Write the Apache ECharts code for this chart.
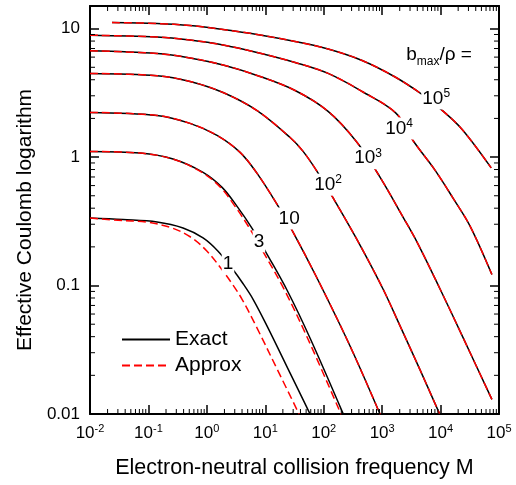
<!DOCTYPE html>
<html>
<head>
<meta charset="utf-8">
<script type="text/javascript" src="https://cdn.jsdelivr.net/npm/echarts@6/dist/echarts.min.js"></script>
<title>Effective Coulomb logarithm</title>
</head>
<body style="margin:0">
<div id="main" style="width:516px;height:485px;"></div>
<script type="text/javascript">

// readings: collision frequency M and effective Coulomb log
var m1e5 = [0.0238, 0.1404, 0.5156, 1.894, 7.238, 32.38, 118.9, 454.4, 1669, 4840, 10650, 23440, 73510];
var ex1e5 = [11.15, 10.96, 10.57, 9.84, 9.00, 7.94, 6.94, 5.65, 4.20, 3.07, 2.31, 1.64, 0.824];

var m1e4 = [0.01, 0.1404, 0.5156, 1.894, 7.238, 32.38, 118.9, 454.4, 1737, 3395, 8080, 16440, 32130, 75570];
var ex1e4 = [8.89, 8.60, 8.15, 7.46, 6.52, 5.45, 4.48, 3.24, 2.19, 1.34, 0.788, 0.477, 0.289, 0.1218];

var m1e3 = [0.01, 0.1404, 0.5156, 1.894, 7.238, 32.38, 118.9, 373.2, 924.4, 2289, 3976, 9845, 24380, 75570];
var ex1e3 = [6.72, 6.40, 5.91, 5.21, 4.32, 3.30, 2.27, 1.30, 0.695, 0.340, 0.217, 0.0936, 0.0391, 0.01299];

var m100 = [0.01, 0.1404, 0.5156, 1.894, 7.238, 26.59, 44.39, 80.20, 156.7, 420.1, 1040, 2033, 4475, 9576];
var ex100 = [4.48, 4.30, 3.88, 3.18, 2.30, 1.42, 1.107, 0.751, 0.452, 0.2058, 0.0936, 0.0483, 0.02195, 0.01007];

var m10 = [0.01, 0.1404, 0.5156, 1.495, 3.703, 7.238, 15.93, 28.76, 77.09, 283.3, 924.4];
var ex10 = [2.227, 2.110, 1.829, 1.475, 1.088, 0.747, 0.4286, 0.2692, 0.1140, 0.0337, 0.00993];

var m3 = [0.01, 0.0718, 0.2638, 0.8608, 1.821, 3.289, 5.943, 10.74, 23.62, 58.51, 217.4];
var ex3 = [1.107, 1.074, 0.965, 0.760, 0.581, 0.4136, 0.2790, 0.1751, 0.0919, 0.0389, 0.00993];
var m3a = [0.01, 0.0718, 0.2638, 0.8275, 1.717, 3.040, 5.385, 9.727, 21.40, 53.0, 198.6];
var ap3 = [1.107, 1.074, 0.965, 0.760, 0.581, 0.4136, 0.2790, 0.1751, 0.0919, 0.0389, 0.00993];

var m1 = [0.01, 0.03674, 0.1404, 0.3913, 0.8608, 1.555, 2.810, 4.006, 6.181, 10.74, 26.59, 58.51];
var ex1 = [0.3355, 0.3260, 0.3123, 0.2805, 0.2345, 0.1848, 0.1327, 0.1061, 0.0782, 0.0483, 0.0208, 0.00998];
var m1a = [0.01, 0.03674, 0.0910, 0.2536, 0.5579, 1.008, 1.821, 2.597, 4.006, 6.957, 17.23, 37.92];
var ap1 = [0.3355, 0.3200, 0.3123, 0.2805, 0.2345, 0.1848, 0.1327, 0.1061, 0.0782, 0.0483, 0.0208, 0.00998];

// curve labels (M, L, text)
var curveLabels = [
    [2.3, 0.149, '1'],
    [7.8, 0.221, '3'],
    [25.6, 0.333, '10'],
    [119, 0.61, '10{s|2}'],
    [575, 0.98, '10{s|3}'],
    [1950, 1.67, '10{s|4}'],
    [8400, 2.86, '10{s|5}']
];

function pairs(xs, ys) {
    return xs.map(function (x, i) { return [x, ys[i]]; });
}

// log minor ticks 2..9 per decade
var xMinor = [];
for (var k = -2; k <= 4; k++) {
    for (var d = 2; d <= 9; d++) xMinor.push([d * Math.pow(10, k), 1]);
}
var yMinor = [];
for (var k = -2; k <= 0; k++) {
    for (var d = 2; d <= 9; d++) yMinor.push([1, d * Math.pow(10, k)]);
}

var exactSets = [[m1, ex1], [m3, ex3], [m10, ex10], [m100, ex100], [m1e3, ex1e3], [m1e4, ex1e4], [m1e5, ex1e5]];
// for b >= 10 the approximation lies on top of the exact curve
var approxSets = [[m1a, ap1], [m3a, ap3], [m10, ex10], [m100, ex100], [m1e3, ex1e3], [m1e4, ex1e4], [m1e5, ex1e5]];

var FONT = 'Liberation Sans, Arial, sans-serif';

var series = [];
exactSets.forEach(function (s) {
    series.push({
        name: 'Exact', type: 'line', data: pairs(s[0], s[1]),
        symbol: 'none', smooth: 0.35, z: 2,
        lineStyle: {color: '#000', width: 1.5},
        itemStyle: {color: '#000'}
    });
});
approxSets.forEach(function (s) {
    series.push({
        name: 'Approx', type: 'line', data: pairs(s[0], s[1]),
        symbol: 'none', smooth: 0.35, z: 3,
        lineStyle: {color: '#ff0000', width: 1.5, type: [8, 4]},
        itemStyle: {color: '#ff0000'}
    });
});
series.push({
    type: 'scatter', data: curveLabels, symbolSize: 1, z: 5, silent: true,
    itemStyle: {color: '#fff'},
    label: {
        show: true, position: 'inside', color: '#000', opacity: 1,
        textBorderWidth: 0, textBorderColor: 'transparent',
        fontFamily: FONT, fontSize: 19, lineHeight: 22,
        backgroundColor: '#fff', padding: [0, 1],
        formatter: function (p) { return p.data[2]; },
        rich: {s: {fontSize: 12, lineHeight: 12, verticalAlign: 'top', fontFamily: FONT, color: '#000'}}
    }
});
series.push({
    type: 'custom', data: xMinor, silent: true, z: 6,
    renderItem: function (params, api) {
        var cs = params.coordSys;
        var x = api.coord([api.value(0), 1])[0];
        return {type: 'group', children: [
            {type: 'line', shape: {x1: x, y1: cs.y + cs.height, x2: x, y2: cs.y + cs.height - 5}, style: {stroke: '#000', lineWidth: 1}},
            {type: 'line', shape: {x1: x, y1: cs.y, x2: x, y2: cs.y + 5}, style: {stroke: '#000', lineWidth: 1}}
        ]};
    }
});
series.push({
    type: 'custom', data: yMinor, silent: true, z: 6,
    renderItem: function (params, api) {
        var cs = params.coordSys;
        var y = api.coord([1, api.value(1)])[1];
        return {type: 'group', children: [
            {type: 'line', shape: {x1: cs.x, y1: y, x2: cs.x + 5, y2: y}, style: {stroke: '#000', lineWidth: 1}},
            {type: 'line', shape: {x1: cs.x + cs.width, y1: y, x2: cs.x + cs.width - 5, y2: y}, style: {stroke: '#000', lineWidth: 1}}
        ]};
    }
});

function isDecade(v) {
    var l = Math.log10(v);
    return Math.abs(l - Math.round(l)) < 1e-6;
}

var axisLineStyle = {lineStyle: {color: '#000', width: 2}};
var majorTick = {show: true, inside: true, length: 9, lineStyle: {color: '#000', width: 1.5}};

var myChart = echarts.init(document.getElementById('main'));
var option = {
    animation: false,
    textStyle: {fontFamily: FONT},
    grid: {left: 90, right: 17, top: 6, bottom: 71},
    legend: {
        orient: 'vertical', left: 116, top: 324,
        itemWidth: 48, itemHeight: 14, itemGap: 5,
        data: ['Exact', 'Approx'],
        itemStyle: {opacity: 0},
        textStyle: {fontSize: 21, color: '#000', fontFamily: FONT}
    },
    xAxis: [{
        type: 'log', logBase: 10, min: 0.01, max: 100000,
        name: 'Electron-neutral collision frequency M',
        nameLocation: 'middle', nameGap: 43,
        nameTextStyle: {fontSize: 21.5, color: '#000', fontFamily: FONT},
        axisLine: axisLineStyle, axisTick: majorTick, splitLine: {show: false},
        axisLabel: {
            interval: 0, margin: 9, color: '#000', fontSize: 17, lineHeight: 20, fontFamily: FONT,
            formatter: function (v) {
                if (!isDecade(v)) return '';
                return '10{s|' + Math.round(Math.log10(v)) + '}';
            },
            rich: {s: {fontSize: 11, lineHeight: 12, verticalAlign: 'top', fontFamily: FONT}}
        }
    }, {
        type: 'log', logBase: 10, min: 0.01, max: 100000, position: 'top',
        axisLine: axisLineStyle, axisTick: majorTick, axisLabel: {show: false}, splitLine: {show: false}
    }],
    yAxis: [{
        type: 'log', logBase: 10, min: 0.01, max: 15,
        name: 'Effective Coulomb logarithm',
        nameLocation: 'middle', nameGap: 54,
        nameTextStyle: {fontSize: 21, color: '#000', fontFamily: FONT, padding: [0, 20, 0, 0]},
        axisLine: axisLineStyle, axisTick: majorTick, splitLine: {show: false},
        axisLabel: {
            margin: 10, color: '#000', fontSize: 17, fontFamily: FONT,
            formatter: function (v) {
                if (!isDecade(v)) return '';
                var e = Math.round(Math.log10(v));
                return e >= 0 ? String(Math.pow(10, e)) : Math.pow(10, e).toFixed(-e);
            }
        }
    }, {
        type: 'log', logBase: 10, min: 0.01, max: 15, position: 'right',
        axisLine: axisLineStyle, axisTick: majorTick, axisLabel: {show: false}, splitLine: {show: false}
    }],
    graphic: [{
        type: 'text', x: 439, y: 55, silent: true,
        style: {
            text: 'b{s|max}/\u03c1 =', align: 'center', verticalAlign: 'middle',
            fontSize: 19, lineHeight: 26, fontFamily: FONT, fill: '#000',
            rich: {s: {fontSize: 12, lineHeight: 12, verticalAlign: 'bottom', fontFamily: FONT}}
        }
    }],
    series: series
};
myChart.setOption(option);

</script>
</body>
</html>
